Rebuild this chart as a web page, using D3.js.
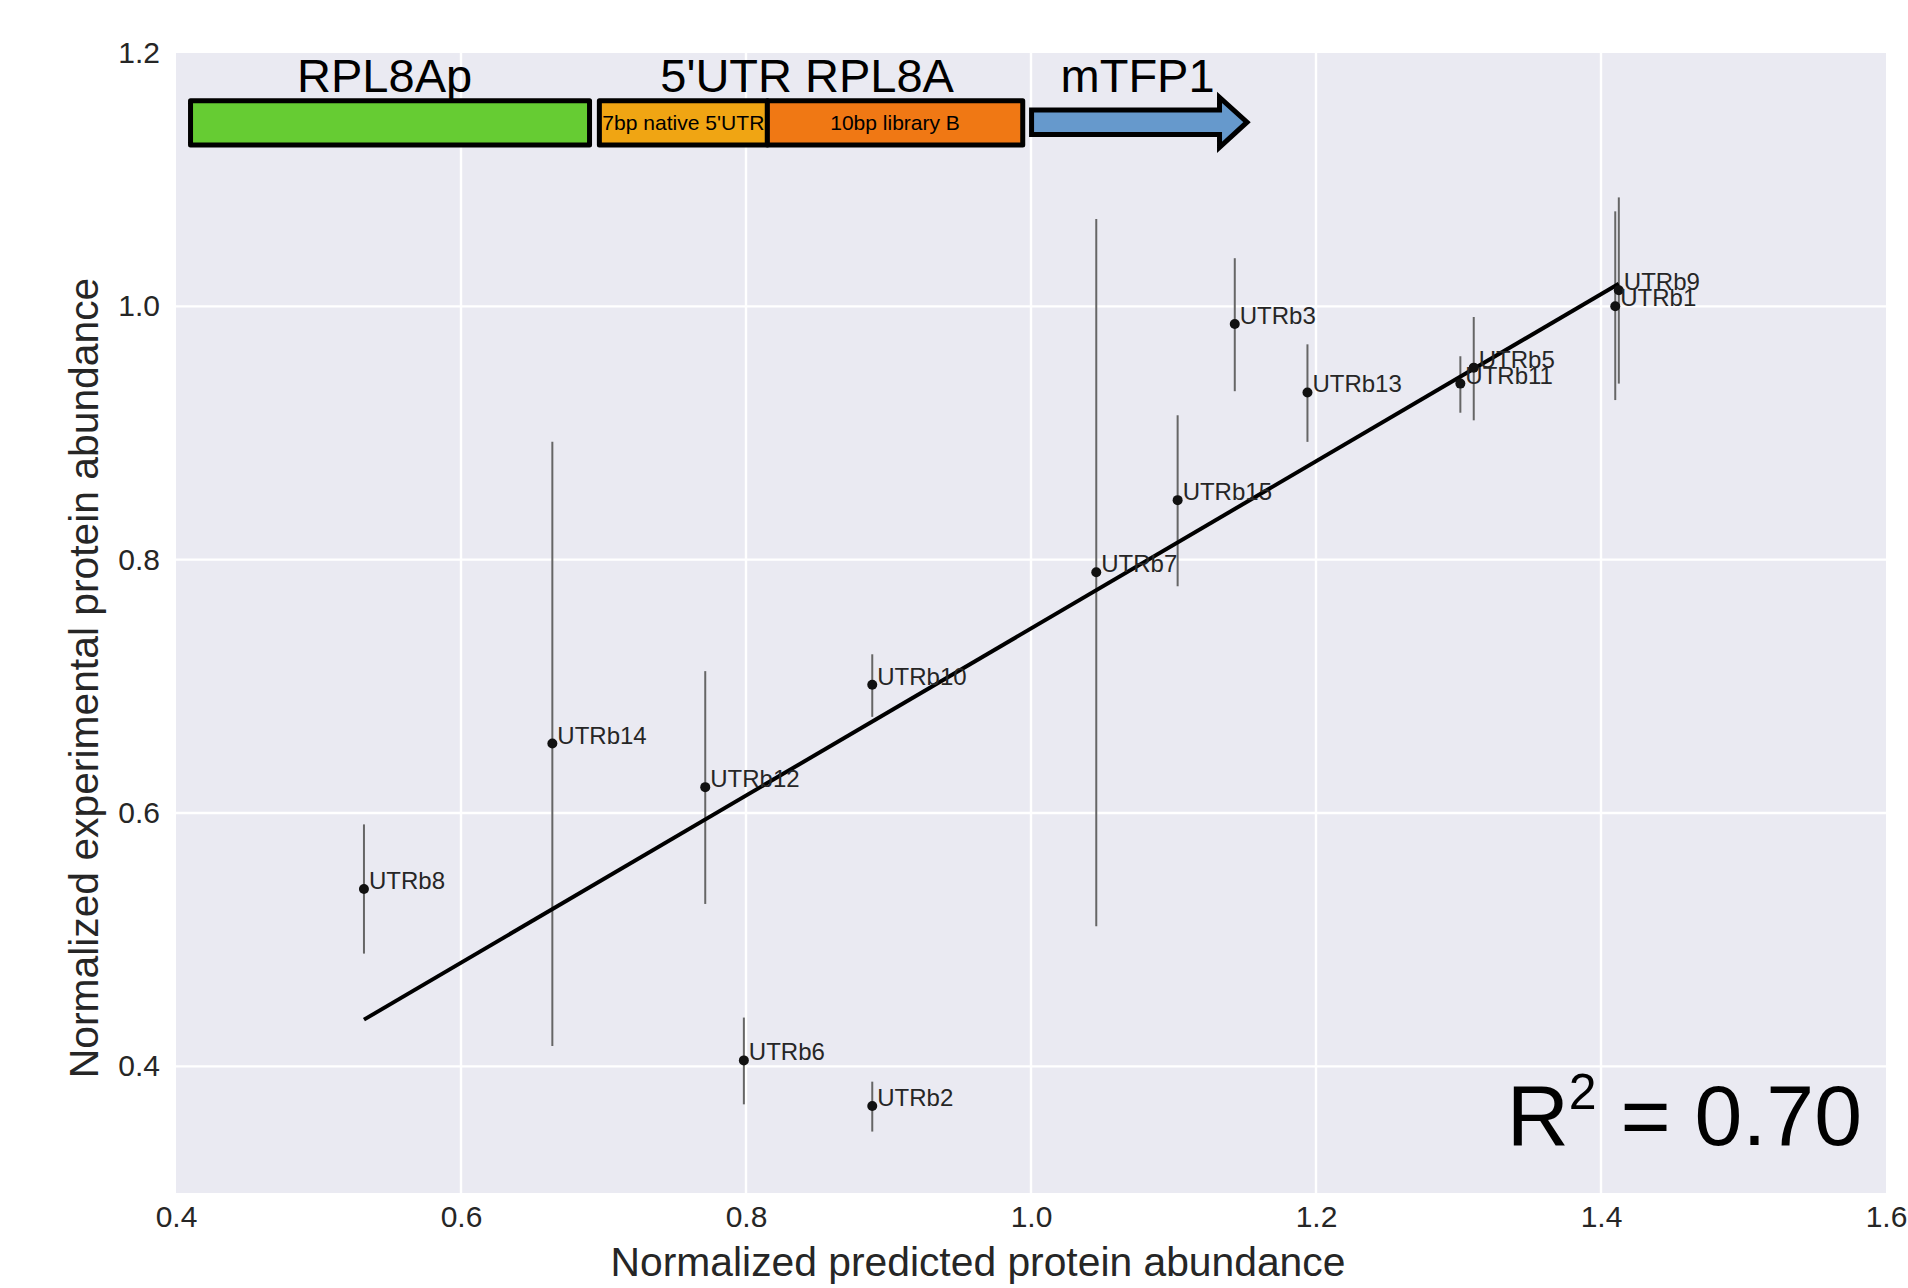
<!DOCTYPE html>
<html>
<head>
<meta charset="utf-8">
<script src="https://cdn.jsdelivr.net/npm/d3@7"></script>
<style>
  body { margin: 0; background: #fff; }
  text { font-family: "Liberation Sans", Arial, sans-serif; }
</style>
</head>
<body>
<div class="chart-container"></div>
<script>
// values
var names = ["UTRb1", "UTRb2", "UTRb3", "UTRb5", "UTRb6", "UTRb7", "UTRb8", "UTRb9",
             "UTRb10", "UTRb11", "UTRb12", "UTRb13", "UTRb14", "UTRb15"];
var predicted = [1.410, 0.8886, 1.143, 1.3107, 0.7985, 1.0458, 0.5319, 1.4125,
                 0.8886, 1.3013, 0.7714, 1.194, 0.6641, 1.1029];
var experimental = [1.000, 0.3687, 0.986, 0.9516, 0.4047, 0.790, 0.540, 1.0127,
                    0.7013, 0.939, 0.6204, 0.932, 0.6548, 0.847];
var errLow = [0.926, 0.3485, 0.933, 0.910, 0.370, 0.5105, 0.489, 0.939,
              0.6759, 0.916, 0.5282, 0.893, 0.416, 0.779];
var errHigh = [1.075, 0.3879, 1.038, 0.9916, 0.4385, 1.069, 0.591, 1.086,
               0.7253, 0.9606, 0.712, 0.970, 0.893, 0.914];

// linear fit as drawn in the figure
var fitSlope = 0.6597;
var fitIntercept = 0.0860;
var rSquared = "0.70";

var xTicks = [0.4, 0.6, 0.8, 1.0, 1.2, 1.4, 1.6];
var yTicks = [0.4, 0.6, 0.8, 1.0, 1.2];

// construct schematic (data units)
var blocks = [
    {x0: 0.4102, x1: 0.6902, fill: "#66cc33", label: ""},
    {x0: 0.6971, x1: 0.8150, fill: "#f0a513", label: "7bp native 5'UTR"},
    {x0: 0.8150, x1: 0.9942, fill: "#f07814", label: "10bp library B"}
];
var blockLabels = [
    {x: 0.5464, text: "RPL8Ap"},
    {x: 0.8429, text: "5'UTR RPL8A"},
    {x: 1.0748, text: "mTFP1"}
];

draw();

function draw() {
    var drawWidth = 1908;
    var drawHeight = 1288;
    var margin = {top: 53, right: 22, bottom: 95, left: 176};
    var width = drawWidth - margin.left - margin.right;
    var height = drawHeight - margin.top - margin.bottom;

    var svg = d3.select(".chart-container").append("svg")
        .attr("width", drawWidth)
        .attr("height", drawHeight);

    var g = svg.append("g")
        .attr("transform", "translate(" + margin.left + "," + margin.top + ")");

    var x = d3.scaleLinear().domain([0.4, 1.6]).range([0, width]);
    var y = d3.scaleLinear().domain([0.3, 1.2]).range([height, 0]);

    g.append("rect")
        .attr("width", width)
        .attr("height", height)
        .attr("fill", "#eaeaf2");

    // grid
    g.selectAll(".gx").data(xTicks.slice(1, -1)).enter().append("line")
        .attr("x1", d => x(d)).attr("x2", d => x(d))
        .attr("y1", 0).attr("y2", height)
        .attr("stroke", "#fff").attr("stroke-width", 2.4);
    g.selectAll(".gy").data(yTicks.slice(0, -1)).enter().append("line")
        .attr("x1", 0).attr("x2", width)
        .attr("y1", d => y(d)).attr("y2", d => y(d))
        .attr("stroke", "#fff").attr("stroke-width", 2.4);

    // axes
    var xAxis = g.append("g")
        .attr("transform", "translate(0," + height + ")")
        .call(d3.axisBottom(x).tickValues(xTicks).tickSize(0).tickPadding(13).tickFormat(d3.format(".1f")));
    var yAxis = g.append("g")
        .call(d3.axisLeft(y).tickValues(yTicks).tickSize(0).tickPadding(16).tickFormat(d3.format(".1f")));
    [xAxis, yAxis].forEach(function (a) {
        a.select(".domain").remove();
        a.selectAll("text")
            .attr("font-size", 30)
            .attr("font-family", "Liberation Sans, Arial, sans-serif")
            .attr("fill", "#262626");
    });

    svg.append("text")
        .attr("x", 978).attr("y", 1276)
        .attr("text-anchor", "middle")
        .attr("font-size", 40.8)
        .attr("fill", "#262626")
        .text("Normalized predicted protein abundance");
    svg.append("text")
        .attr("transform", "translate(98,678) rotate(-90)")
        .attr("text-anchor", "middle")
        .attr("font-size", 40.8)
        .attr("fill", "#262626")
        .text("Normalized experimental protein abundance");

    // construct schematic
    var boxTop = 1.1624, boxBottom = 1.1273;
    g.selectAll(".block").data(blocks).enter().append("rect")
        .attr("x", d => x(d.x0))
        .attr("y", y(boxTop))
        .attr("width", d => x(d.x1) - x(d.x0))
        .attr("height", y(boxBottom) - y(boxTop))
        .attr("fill", d => d.fill)
        .attr("stroke", "#000")
        .attr("stroke-width", 5)
        .attr("stroke-linejoin", "round");
    g.selectAll(".blabel").data(blocks.filter(d => d.label)).enter().append("text")
        .attr("x", d => (x(d.x0) + x(d.x1)) / 2)
        .attr("y", y(1.1389))
        .attr("text-anchor", "middle")
        .attr("font-size", 21)
        .attr("textLength", d => d.label.length > 15 ? 162 : null)
        .attr("lengthAdjust", "spacingAndGlyphs")
        .attr("fill", "#000")
        .text(d => d.label);
    g.selectAll(".tlabel").data(blockLabels).enter().append("text")
        .attr("x", d => x(d.x))
        .attr("y", y(1.1696))
        .attr("text-anchor", "middle")
        .attr("font-size", 47)
        .attr("fill", "#000")
        .text(d => d.text);

    var arrow = [[1.0004, 1.1550], [1.1323, 1.1550], [1.1323, 1.1650], [1.1516, 1.1454],
                 [1.1323, 1.1255], [1.1323, 1.1357], [1.0004, 1.1357]];
    g.append("path")
        .attr("d", d3.line().x(d => x(d[0])).y(d => y(d[1]))(arrow) + "Z")
        .attr("fill", "#6699cc")
        .attr("stroke", "#000")
        .attr("stroke-width", 5)
        .attr("stroke-linejoin", "miter");

    var pts = names.map(function (n, i) {
        return {name: n, x: predicted[i], y: experimental[i], lo: errLow[i], hi: errHigh[i]};
    });

    // error bars
    g.selectAll(".err").data(pts).enter().append("line")
        .attr("x1", d => x(d.x)).attr("x2", d => x(d.x))
        .attr("y1", d => y(d.lo)).attr("y2", d => y(d.hi))
        .attr("stroke", "#666").attr("stroke-width", 2);

    // fit line
    var xr = d3.extent(predicted);
    g.append("line")
        .attr("x1", x(xr[0])).attr("y1", y(fitIntercept + fitSlope * xr[0]))
        .attr("x2", x(xr[1])).attr("y2", y(fitIntercept + fitSlope * xr[1]))
        .attr("stroke", "#000").attr("stroke-width", 4);

    g.selectAll(".dot").data(pts).enter().append("circle")
        .attr("cx", d => x(d.x)).attr("cy", d => y(d.y))
        .attr("r", 5)
        .attr("fill", "#111");

    g.selectAll(".lab").data(pts).enter().append("text")
        .attr("x", d => x(d.x) + 5)
        .attr("y", d => y(d.y))
        .attr("font-size", 24)
        .attr("fill", "#262626")
        .text(d => d.name);

    // R^2
    var r2 = g.append("text")
        .attr("x", 1862 - margin.left)
        .attr("y", 1145 - margin.top)
        .attr("text-anchor", "end")
        .attr("font-size", 86)
        .attr("fill", "#000");
    r2.append("tspan").text("R");
    r2.append("tspan").attr("font-size", 50).attr("dy", -36).text("2");
    r2.append("tspan").attr("dy", 36).text(" = " + rSquared);
}
</script>
</body>
</html>
